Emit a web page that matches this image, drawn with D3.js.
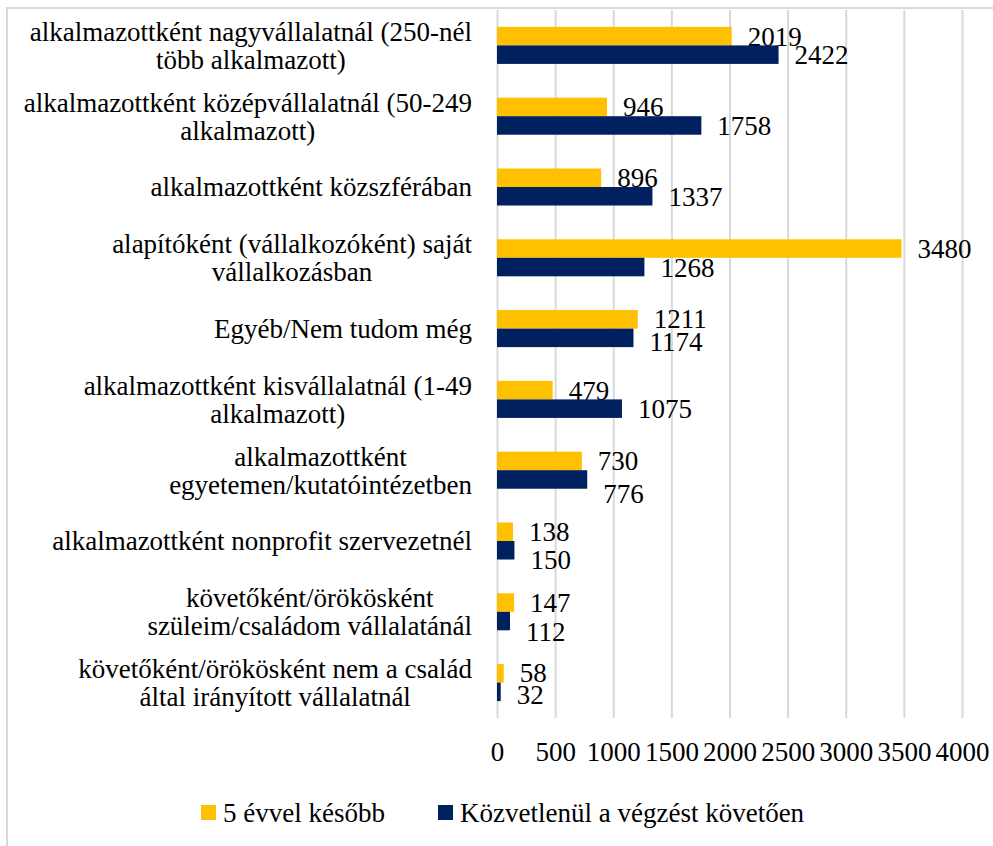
<!DOCTYPE html>
<html>
<head>
<meta charset="utf-8">
<script src="https://cdn.jsdelivr.net/npm/d3@7"></script>
<style>
  body { margin: 0; background: #fff; }
  text { font-family: "Liberation Serif", "DejaVu Serif", serif; fill: #000; }
</style>
</head>
<body>
<div class="chart"></div>
<script>
const categories = [
    ['alkalmazottként nagyvállalatnál (250-nél', 'több alkalmazott)'],
    ['alkalmazottként középvállalatnál (50-249', 'alkalmazott)'],
    ['alkalmazottként közszférában'],
    ['alapítóként (vállalkozóként) saját', 'vállalkozásban'],
    ['Egyéb/Nem tudom még'],
    ['alkalmazottként kisvállalatnál (1-49', 'alkalmazott)'],
    ['alkalmazottként', 'egyetemen/kutatóintézetben'],
    ['alkalmazottként nonprofit szervezetnél'],
    ['követőként/örökösként', 'szüleim/családom vállalatánál'],
    ['követőként/örökösként nem a család', 'által irányított vállalatnál']
];
const fiveYearsLater = [2019, 946, 896, 3480, 1211, 479, 730, 138, 147, 58];
const rightAfter = [2422, 1758, 1337, 1268, 1174, 1075, 776, 150, 112, 32];
const seriesNames = ['5 évvel később', 'Közvetlenül a végzést követően'];
const tickValues = [0, 500, 1000, 1500, 2000, 2500, 3000, 3500, 4000];

const colors = ['#FFC000', '#002060'];
const fullWidth = 993;
const fullHeight = 846;
const plot = {left: 497, right: 962, top: 10, bottom: 718};
const fontSize = 27;

// label nudges where the original moved overlapping labels
const labelNudge = {'0-4': -1, '1-4': 4, '1-6': 14, '1-7': 9, '1-8': 10, '0-9': -1, '1-9': 3};

const svg = d3.select('.chart')
    .append('svg')
        .attr('width', fullWidth)
        .attr('height', fullHeight);

// chart frame
svg.append('rect')
    .attr('x', 7)
    .attr('y', 8)
    .attr('width', 1000)
    .attr('height', 900)
    .attr('fill', 'none')
    .attr('stroke', '#d9d9d9')
    .attr('stroke-width', 2);

const xScale = d3.scaleLinear()
    .domain([0, 4000])
    .range([plot.left, plot.right]);

const yScale = d3.scaleBand()
    .domain(d3.range(categories.length))
    .range([plot.top, plot.bottom])
    .paddingInner(0.477)
    .paddingOuter(0.2385);

const subScale = d3.scaleBand()
    .domain([0, 1])
    .range([0, yScale.bandwidth()]);

// gridlines
const grid = svg.append('g')
    .attr('transform', `translate(0, ${plot.bottom})`)
    .call(d3.axisBottom(xScale)
        .tickValues(tickValues)
        .tickSize(-(plot.bottom - plot.top))
        .tickFormat(''));
grid.select('.domain').remove();
grid.selectAll('line')
    .attr('stroke', '#d9d9d9')
    .attr('stroke-width', 2);

// tick labels
const xAxis = svg.append('g')
    .attr('transform', `translate(0, ${plot.bottom})`)
    .call(d3.axisBottom(xScale)
        .tickValues(tickValues)
        .tickSize(0)
        .tickPadding(24)
        .tickFormat(d3.format('d')));
xAxis.select('.domain').remove();
xAxis.selectAll('text')
    .style('font-family', '"Liberation Serif", serif')
    .style('font-size', fontSize + 'px')
    .attr('fill', '#000');

// bars
const series = [fiveYearsLater, rightAfter];
series.forEach((values, s) => {
    svg.append('g')
        .selectAll('rect')
        .data(values)
        .enter()
        .append('rect')
        .attr('x', xScale(0))
        .attr('y', (d, i) => yScale(i) + subScale(s))
        .attr('width', d => xScale(d) - xScale(0))
        .attr('height', subScale.bandwidth())
        .attr('fill', colors[s]);

    svg.append('g')
        .selectAll('text')
        .data(values)
        .enter()
        .append('text')
        .attr('x', d => xScale(d) + 16)
        .attr('y', (d, i) => yScale(i) + subScale(s) + subScale.bandwidth() / 2 + (labelNudge[s + '-' + i] || 0))
        .attr('dy', '0.35em')
        .style('font-size', fontSize + 'px')
        .text(d => d);
});

// category labels, block right-aligned, lines centred in block
const labelRight = 472;
const lineHeight = 28;
categories.forEach((lines, i) => {
    const g = svg.append('g');
    const cy = yScale(i) + yScale.bandwidth() / 2;
    const texts = lines.map((line, j) => g.append('text')
        .attr('y', cy + (j - (lines.length - 1) / 2) * lineHeight)
        .attr('dy', '0.35em')
        .attr('text-anchor', 'middle')
        .style('font-size', fontSize + 'px')
        .text(line));
    const blockWidth = d3.max(texts, t => t.node().getComputedTextLength());
    texts.forEach(t => t.attr('x', labelRight - blockWidth / 2));
});

// legend
const legendItems = [{x: 201}, {x: 438}];
legendItems.forEach((item, s) => {
    svg.append('rect')
        .attr('x', item.x)
        .attr('y', 805)
        .attr('width', 15)
        .attr('height', 15)
        .attr('fill', colors[s]);
    svg.append('text')
        .attr('x', item.x + 22)
        .attr('y', 813)
        .attr('dy', '0.35em')
        .style('font-size', fontSize + 'px')
        .text(seriesNames[s]);
});
</script>
</body>
</html>
